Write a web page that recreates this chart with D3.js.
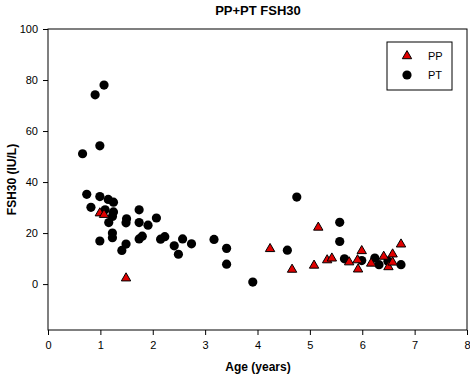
<!DOCTYPE html>
<html>
<head>
<meta charset="utf-8">
<script src="https://cdn.jsdelivr.net/npm/d3@7"></script>
<style>
  body { margin: 0; background: #fff; }
  svg { display: block; font-family: "Liberation Sans", Arial, sans-serif; }
</style>
</head>
<body>
<div id="chart"></div>
<script>
// PP group: [age, FSH30]
const ppAge = [0.99, 1.07, 1.49, 4.24, 4.66, 5.08, 5.16, 5.33, 5.42, 5.75, 5.91, 5.92, 5.99, 6.17, 6.41, 6.50, 6.58, 6.58, 6.74];
const ppFsh = [27.8, 27.2, 2.3, 13.8, 5.7, 7.3, 22.2, 9.4, 10.1, 8.6, 9.4, 5.8, 13.0, 8.1, 10.8, 6.7, 11.7, 8.5, 15.6];

// PT group
const ptAge = [0.66, 0.90, 1.07, 0.99, 0.74, 0.99, 0.82, 1.15, 1.25, 1.09, 1.25, 1.23, 1.16, 1.50, 1.49, 1.74, 1.74, 1.91, 2.07,
  1.23, 1.23, 0.99, 1.80, 1.74, 1.49, 1.41, 2.15, 2.23, 2.57, 2.41, 2.74, 2.49, 3.17, 3.41, 3.41, 3.91,
  4.57, 4.75, 5.57, 5.57, 5.66, 5.99, 6.24, 6.32, 6.49, 6.74];
const ptFsh = [51.1, 74.2, 78.0, 54.2, 35.2, 34.3, 30.1, 33.2, 32.1, 29.1, 28.3, 26.5, 24.1, 25.6, 24.0, 29.1, 24.1, 23.1, 25.9,
  20.0, 18.2, 16.9, 18.8, 17.7, 15.7, 13.2, 17.6, 18.6, 17.7, 15.0, 15.8, 11.7, 17.5, 14.0, 7.8, 0.8,
  13.3, 34.1, 24.2, 16.7, 9.9, 9.2, 10.2, 7.6, 9.0, 7.6];

const xTicks = [0, 1, 2, 3, 4, 5, 6, 7, 8];
const yTicks = [0, 20, 40, 60, 80, 100];
const legendLabels = ['PP', 'PT'];

const width = 470, height = 375;
const plotLeft = 48, plotRight = 467, plotTop = 29, plotBottom = 330;

const svg = d3.select('#chart').append('svg')
  .attr('width', width)
  .attr('height', height);

const x = d3.scaleLinear().domain([0, 8]).range([plotLeft, plotRight]);
const y = d3.scaleLinear().domain([-18, 100]).range([plotBottom, plotTop]);

// frame
svg.append('rect')
  .attr('x', plotLeft).attr('y', plotTop)
  .attr('width', plotRight - plotLeft).attr('height', plotBottom - plotTop)
  .attr('fill', 'none').attr('stroke', '#000').attr('stroke-width', 1);

// axes
const xAxis = svg.append('g')
  .attr('transform', `translate(0,${plotBottom})`)
  .call(d3.axisBottom(x).tickValues(xTicks).tickSize(5).tickPadding(6).tickFormat(d3.format('d')));
const yAxis = svg.append('g')
  .attr('transform', `translate(${plotLeft},0)`)
  .call(d3.axisLeft(y).tickValues(yTicks).tickSize(5).tickPadding(5).tickFormat(d3.format('d')));

[xAxis, yAxis].forEach(g => {
  g.select('.domain').remove();
  g.selectAll('text').attr('font-size', 11).attr('font-family', '"Liberation Sans", Arial, sans-serif').attr('fill', '#000');
});

// PT circles
svg.append('g').selectAll('circle')
  .data(ptAge.map((a, i) => [a, ptFsh[i]]))
  .enter()
  .append('circle')
  .attr('cx', d => x(d[0]))
  .attr('cy', d => y(d[1]))
  .attr('r', 4.6)
  .attr('fill', '#000');

// PP triangles
const tri = d3.symbol().type(d3.symbolTriangle).size(38);
svg.append('g').selectAll('path')
  .data(ppAge.map((a, i) => [a, ppFsh[i]]))
  .enter()
  .append('path')
  .attr('d', tri)
  .attr('transform', d => `translate(${x(d[0])},${y(d[1])})`)
  .attr('fill', '#e00000')
  .attr('stroke', '#000')
  .attr('stroke-width', 1);

// title and axis labels
svg.append('text')
  .attr('x', 258).attr('y', 15)
  .attr('text-anchor', 'middle')
  .attr('font-size', 13).attr('font-weight', 'bold')
  .text('PP+PT FSH30');

svg.append('text')
  .attr('x', 258).attr('y', 371)
  .attr('text-anchor', 'middle')
  .attr('font-size', 12).attr('font-weight', 'bold')
  .text('Age (years)');

svg.append('text')
  .attr('transform', `translate(16,${(plotTop + plotBottom) / 2}) rotate(-90)`)
  .attr('text-anchor', 'middle')
  .attr('font-size', 12).attr('font-weight', 'bold')
  .text('FSH30 (IU/L)');

// legend
const legend = svg.append('g');
legend.append('rect')
  .attr('x', 387).attr('y', 42)
  .attr('width', 65).attr('height', 48)
  .attr('fill', '#fff').attr('stroke', '#000');
legend.append('path')
  .attr('d', tri)
  .attr('transform', 'translate(407,56)')
  .attr('fill', '#e00000').attr('stroke', '#000');
legend.append('circle')
  .attr('cx', 407).attr('cy', 75).attr('r', 4.6).attr('fill', '#000');
legend.selectAll('text.lab')
  .data(legendLabels)
  .enter()
  .append('text')
  .attr('class', 'lab')
  .attr('x', 428)
  .attr('y', (d, i) => 60 + i * 19)
  .attr('font-size', 11)
  .text(d => d);
</script>
</body>
</html>
